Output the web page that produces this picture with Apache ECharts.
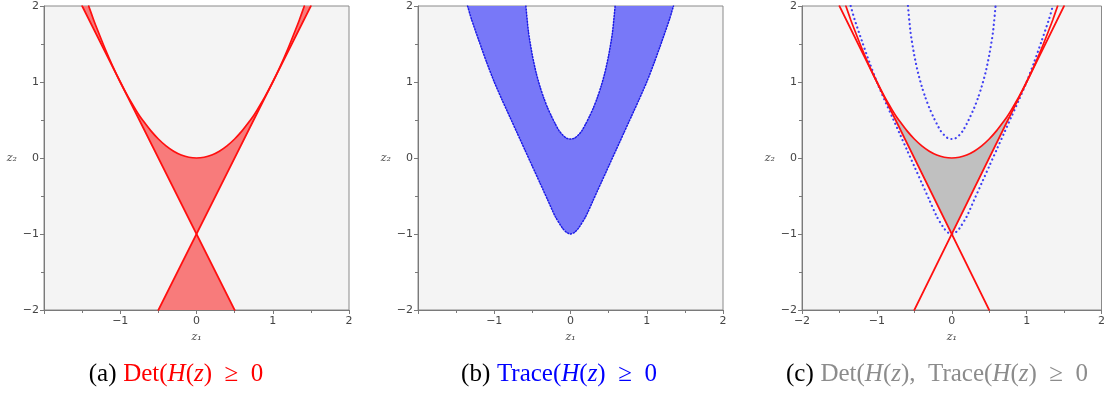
<!DOCTYPE html>
<html>
<head>
<meta charset="utf-8">
<script src="https://cdn.jsdelivr.net/npm/echarts@6/dist/echarts.min.js"></script>
<style>
  html, body { margin: 0; padding: 0; background: #fff; }
  #main { width: 1108px; height: 393px; }
</style>
</head>
<body>
<div id="main"></div>
<script>
// z2 = z1^2 (Det boundary)
var parabola = [
  [-1.414, 2], [-1.35, 1.82], [-1.3, 1.69], [-1.2, 1.44], [-1.1, 1.21], [-1, 1],
  [-0.9, 0.81], [-0.8, 0.64], [-0.75, 0.56], [-0.7, 0.49], [-0.6, 0.36], [-0.5, 0.25],
  [-0.4, 0.16], [-0.3, 0.09], [-0.2, 0.04], [-0.1, 0.01], [0, 0],
  [0.1, 0.01], [0.2, 0.04], [0.3, 0.09], [0.4, 0.16], [0.5, 0.25], [0.6, 0.36],
  [0.7, 0.49], [0.75, 0.56], [0.8, 0.64], [0.9, 0.81], [1, 1], [1.1, 1.21],
  [1.2, 1.44], [1.3, 1.69], [1.35, 1.82], [1.414, 2]
];
// the two straight Det boundaries crossing at (0,-1)
var lineUp = [[-0.5, -2], [1.5, 2]];
var lineDown = [[-1.5, 2], [0.5, -2]];

// Trace boundaries
var traceOuter = [
  [-1.35, 2], [-1.3, 1.83], [-1.2, 1.54], [-1.1, 1.26], [-1, 1], [-0.9, 0.77],
  [-0.8, 0.55], [-0.7, 0.33], [-0.6, 0.11], [-0.5, -0.11], [-0.4, -0.33],
  [-0.3, -0.55], [-0.2, -0.77], [-0.1, -0.93], [-0.05, -0.98], [0, -1],
  [0.05, -0.98], [0.1, -0.93], [0.2, -0.77], [0.3, -0.55], [0.4, -0.33],
  [0.5, -0.11], [0.6, 0.11], [0.7, 0.33], [0.8, 0.55], [0.9, 0.77], [1, 1],
  [1.1, 1.26], [1.2, 1.54], [1.3, 1.83], [1.35, 2]
];
var traceInner = [
  [-0.585, 2], [-0.55, 1.65], [-0.5, 1.35], [-0.45, 1.12], [-0.4, 0.94],
  [-0.35, 0.79], [-0.3, 0.66], [-0.25, 0.55], [-0.2, 0.45], [-0.15, 0.36],
  [-0.1, 0.3], [-0.05, 0.26], [0, 0.25], [0.05, 0.26], [0.1, 0.3], [0.15, 0.36],
  [0.2, 0.45], [0.25, 0.55], [0.3, 0.66], [0.35, 0.79], [0.4, 0.94], [0.45, 1.12],
  [0.5, 1.35], [0.55, 1.65], [0.585, 2]
];
// corners of the shaded region in (c)
var grayCorners = [[0.75, 0.5], [0, -1], [-0.75, 0.5]];

var axisTicks = [-2, -1, 0, 1, 2];

// regions built from the curves above
function between(pts, a, b) {
  return pts.filter(function (p) { return p[0] >= a - 1e-9 && p[0] <= b + 1e-9; });
}
var detRegions = [
  between(parabola, -1, 1).concat([[0, -1]]),
  [[0, -1], lineDown[1], lineUp[0]],
  between(parabola, 1, 1.5).concat([lineUp[1]]),
  [lineDown[0]].concat(between(parabola, -1.5, -1))
];
var traceRegions = [traceOuter.concat(traceInner.slice().reverse())];
var bothRegions = [between(parabola, -0.75, 0.75).concat(grayCorners)];

var grids = [
  { left: 44, top: 6, width: 305, height: 304 },
  { left: 418, top: 6, width: 305, height: 304 },
  { left: 802, top: 6, width: 304, height: 304 }
];

function fmt(v) { return String(v).replace('-', '\u2212'); }

function axes(i, hideMin) {
  var common = {
    type: 'value', gridIndex: i, min: axisTicks[0], max: axisTicks[axisTicks.length - 1], interval: 1,
    axisLine: { show: true, onZero: false, lineStyle: { color: '#7a7a7a', width: 1 } },
    axisTick: { show: true, inside: false, length: 4, lineStyle: { color: '#7a7a7a' } },
    minorTick: { show: true, splitNumber: 2, length: 3, lineStyle: { color: '#7a7a7a' } },
    splitLine: { show: false },
    nameTextStyle: { fontFamily: 'DejaVu Serif', fontStyle: 'italic', fontSize: 11, color: '#444' }
  };
  var x = Object.assign({}, common, {
    name: 'z\u2081', nameLocation: 'middle', nameGap: 19,
    axisLabel: { showMinLabel: !hideMin, margin: 6, fontSize: 11, color: '#444', fontFamily: 'DejaVu Sans', formatter: fmt }
  });
  var y = Object.assign({}, common, {
    name: 'z\u2082', nameLocation: 'middle', nameGap: 27, nameRotate: 0,
    axisLabel: { margin: 5, fontSize: 11, color: '#444', fontFamily: 'DejaVu Sans', formatter: fmt }
  });
  return [x, y];
}

var xAxes = [], yAxes = [];
[true, true, false].forEach(function (h, i) {
  var a = axes(i, h);
  xAxes.push(a[0]); yAxes.push(a[1]);
});

function fill(i, polys, color) {
  return {
    type: 'custom', xAxisIndex: i, yAxisIndex: i, z: 1, silent: true, clip: true,
    data: polys.map(function (p) { return p[0]; }),
    renderItem: function (params, api) {
      var pts = polys[params.dataIndex].map(function (p) { return api.coord(p); });
      return { type: 'polygon', shape: { points: pts, smooth: 0 }, style: { fill: color, stroke: null } };
    }
  };
}

function curve(i, pts, color, width, type) {
  return {
    type: 'line', xAxisIndex: i, yAxisIndex: i, data: pts, z: 3,
    showSymbol: false, smooth: 0.25, silent: true, animation: false,
    lineStyle: { color: color, width: width, type: type || 'solid', cap: 'round' }
  };
}

var red = '#ff1010';
var series = [
  fill(0, detRegions, '#f87b7b'),
  curve(0, parabola, red, 1.7), curve(0, lineUp, red, 1.7), curve(0, lineDown, red, 1.7),

  fill(1, traceRegions, '#7878f8'),
  curve(1, traceOuter, '#1a1ae6', 1.5, [1.2, 1.8]),
  curve(1, traceInner, '#1a1ae6', 1.5, [1.2, 1.8]),

  fill(2, bothRegions, '#c0c0c0'),
  curve(2, traceOuter, '#4040f2', 2.2, [0.1, 4.4]),
  curve(2, traceInner, '#4040f2', 2.2, [0.1, 4.4]),
  curve(2, parabola, red, 1.7), curve(2, lineUp, red, 1.7), curve(2, lineDown, red, 1.7)
];

grids.forEach(function (g) {
  g.show = true; g.backgroundColor = '#f4f4f4'; g.borderColor = '#8a8a8a'; g.borderWidth = 1;
});

var capFont = 'Liberation Serif';
function cap(x, label, text, color) {
  var rich = {
    k: { fontFamily: capFont, fontSize: 25, fill: '#000' },
    r: { fontFamily: capFont, fontSize: 25, fill: color },
    i: { fontFamily: capFont, fontSize: 25, fontStyle: 'italic', fill: color }
  };
  return {
    type: 'text', x: x, y: 374,
    style: { text: '{k|' + label + '}  ' + text, rich: rich, align: 'center', verticalAlign: 'middle' }
  };
}

var chart = echarts.init(document.getElementById('main'));
chart.setOption({
  animation: false,
  grid: grids,
  xAxis: xAxes,
  yAxis: yAxes,
  series: series,
  graphic: [
    cap(176, '(a)', '{r|Det(}{i|H}{r|(}{i|z}{r|)  \u2265  0}', '#ff0000'),
    cap(559, '(b)', '{r|Trace(}{i|H}{r|(}{i|z}{r|)  \u2265  0}', '#0000ff'),
    cap(937, '(c)', '{r|Det(}{i|H}{r|(}{i|z}{r|),  Trace(}{i|H}{r|(}{i|z}{r|)  \u2265  0}', '#8c8c8c')
  ]
});
</script>
</body>
</html>
